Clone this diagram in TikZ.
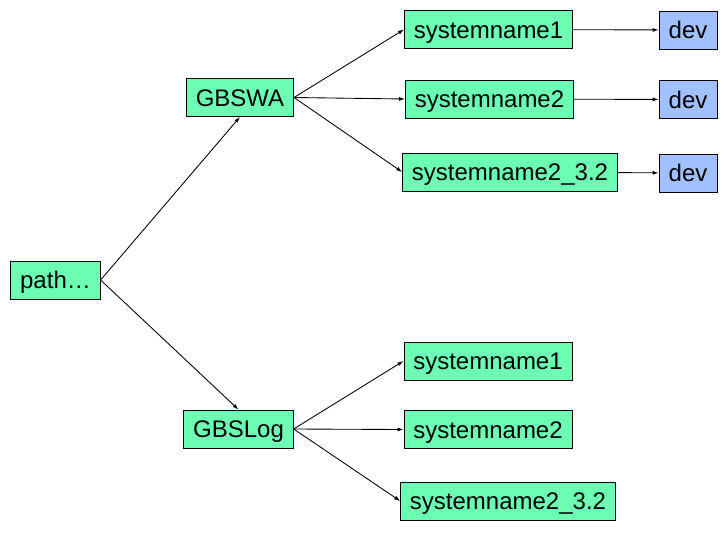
\documentclass[tikz,border=0pt]{standalone}
\usepackage{fontspec}
\setmainfont{Liberation Sans}
\usetikzlibrary{arrows.meta}
\definecolor{boxgreen}{RGB}{108,255,180}
\definecolor{boxblue}{RGB}{160,192,255}

\begin{document}
\begin{tikzpicture}[x=0.75pt,y=-0.75pt,line width=0.65pt,>={Latex[length=4.5pt,width=3pt]},
    dirbox/.style={draw,fill=boxgreen,minimum height=28.5pt,inner xsep=7pt,
      text height=13pt,text depth=0pt,font=\fontsize{18}{20}\selectfont},
    devbox/.style={dirbox,fill=boxblue,minimum width=43.5pt,inner xsep=3pt}]
  \useasboundingbox (0,0) rectangle (728,532);
  % root and the two groups
  \node[dirbox] (root) at (55.5,280) {path…};
  \node[dirbox] (swa) at (240,97.5) {GBSWA};
  \node[dirbox] (log) at (238.5,429) {GBSLog};
  % systems under GBSWA
  \node[dirbox] (swa1) at (488.5,29.5) {systemname1};
  \node[dirbox] (swa2) at (489.5,99) {systemname2};
  \node[dirbox] (swa3) at (510,172) {systemname2\_3.2};
  \node[devbox] (dev1) at (688,30) {dev};
  \node[devbox] (dev2) at (688,99.5) {dev};
  \node[devbox] (dev3) at (688,173) {dev};
  % systems under GBSLog
  \node[dirbox] (log1) at (488,361) {systemname1};
  \node[dirbox] (log2) at (488,429.5) {systemname2};
  \node[dirbox] (log3) at (508,501) {systemname2\_3.2};
  \draw[->] (root.east) -- (swa.south);
  \draw[->] (root.east) -- (log.north);
  \foreach \s in {swa1,swa2,swa3}
    \draw[->] (swa.east) -- (\s.west);
  \foreach \s in {log1,log2,log3}
    \draw[->] (log.east) -- (\s.west);
  \draw[->] (swa1) -- (dev1);
  \draw[->] (swa2) -- (dev2);
  \draw[->] (swa3) -- (dev3);
\end{tikzpicture}
\end{document}
